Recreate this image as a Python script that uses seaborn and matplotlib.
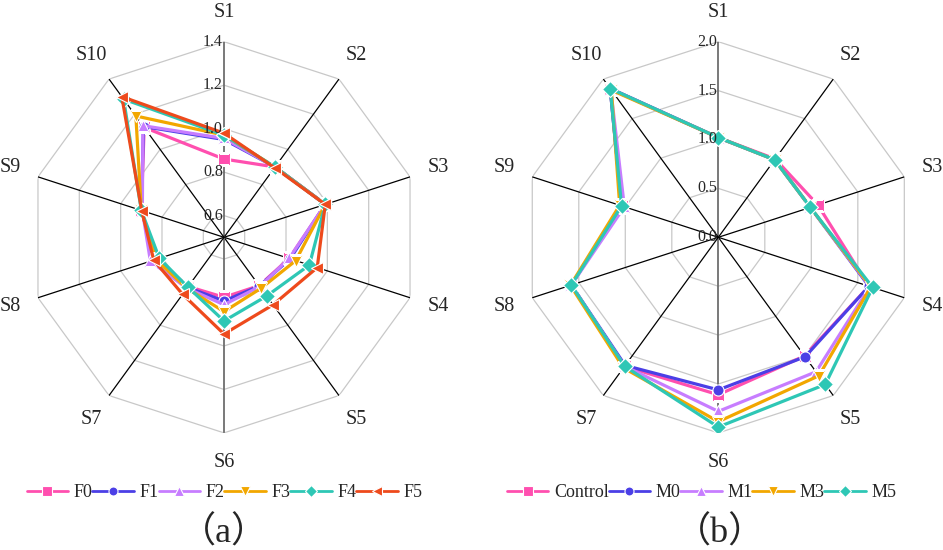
import numpy as np
import pandas as pd
import matplotlib
matplotlib.use("Agg")
import matplotlib.pyplot as plt
import matplotlib.transforms as mtransforms
import seaborn as sns

# ---------------- data ----------------
categories = ["S1", "S2", "S3", "S4", "S5", "S6", "S7", "S8", "S9", "S10"]

series_a = ["F0", "F1", "F2", "F3", "F4", "F5"]
F0 = [0.86, 0.90, 0.99, 0.815, 0.775, 0.776, 0.78, 0.83, 0.90, 1.125]
F1 = [0.95, 0.90, 0.99, 0.82, 0.777, 0.793, 0.785, 0.83, 0.90, 1.13]
F2 = [0.955, 0.90, 0.99, 0.815, 0.78, 0.81, 0.79, 0.856, 0.895, 1.135]
F3 = [0.97, 0.90, 0.99, 0.847, 0.79, 0.842, 0.79, 0.83, 0.90, 1.19]
F4 = [0.97, 0.90, 0.99, 0.913, 0.834, 0.885, 0.783, 0.813, 0.90, 1.286]
F5 = [0.979, 0.896, 0.99, 0.951, 0.884, 0.945, 0.824, 0.84, 0.898, 1.30]
values_a = [F0, F1, F2, F3, F4, F5]
ticks_a = [0.6, 0.8, 1.0, 1.2, 1.4]
tick_labels_a = ["0.6", "0.8", "1.0", "1.2", "1.4"]
rmin_a, rmax_a = 0.5, 1.4

series_b = ["Control", "M0", "M1", "M3", "M5"]
Control = [1.02, 0.99, 1.07, 1.62, 1.50, 1.61, 1.63, 1.58, 1.04, 1.88]
M0 = [1.02, 0.98, 0.99, 1.62, 1.51, 1.56, 1.62, 1.58, 1.04, 1.88]
M1 = [1.02, 0.98, 0.99, 1.63, 1.70, 1.78, 1.63, 1.58, 1.01, 1.87]
M3 = [1.02, 0.98, 0.99, 1.64, 1.75, 1.885, 1.65, 1.59, 1.06, 1.86]
M5 = [1.02, 0.98, 0.99, 1.66, 1.86, 1.94, 1.63, 1.58, 1.04, 1.88]
values_b = [Control, M0, M1, M3, M5]
ticks_b = [0.0, 0.5, 1.0, 1.5, 2.0]
tick_labels_b = ["0.0", "0.5", "1.0", "1.5", "2.0"]
rmin_b, rmax_b = 0.0, 2.0

colors_a = ["#FF4FAF", "#4B3FE6", "#C77DFF", "#F2A700", "#2EC7B5", "#EE4A1C"]
markers_a = ["s", "o", "^", "v", "D", "<"]
colors_b = colors_a[:5]
markers_b = markers_a[:5]

panel_titles = ["a", "b"]

# ---------------- style ----------------
sns.set_style("white")
plt.rcParams["font.family"] = ["Liberation Serif", "Noto Sans CJK SC", "DejaVu Sans"]

W, H = 943, 550
fig = plt.figure(figsize=(W / 100, H / 100), dpi=100)

R = 195.6  # px
def make_ax(cx, cy):
    return fig.add_axes([(cx - R) / W, (H - cy - R) / H, 2 * R / W, 2 * R / H],
                        projection="polar")

ax_a = make_ax(224.0, 237.3)
ax_b = make_ax(718.3, 237.3)

n = len(categories)
theta = np.arange(n) * 2 * np.pi / n
theta_closed = np.append(theta, 2 * np.pi)


def radar(ax, names, vals, colors, markers, rmin, rmax, ticks, tlabels):
    ax.set_theta_zero_location("N")
    ax.set_theta_direction(-1)
    ax.set_ylim(rmin, rmax)
    ax.grid(False)
    ax.set_xticks([])
    ax.set_yticks([])
    ax.spines["polar"].set_visible(False)
    ax.set_facecolor("none")

    # decagon rings
    for t in ticks:
        if t <= rmin:
            continue
        ax.plot(theta_closed, [t] * (n + 1), color="#c8c8c8", lw=0.9, zorder=1)
    # spokes
    for i, th in enumerate(theta):
        if i in (0, 5):
            ax.plot([th, th], [rmin, rmax], color="#6e6e6e", lw=1.3, zorder=1.5)
        else:
            ax.plot([th, th], [rmin, rmax], color="black", lw=0.9, zorder=1.5)

    # data
    rows = []
    for name, v in zip(names, vals):
        vv = list(v) + [v[0]]
        for th, val in zip(theta_closed, vv):
            rows.append({"theta": th, "value": val, "series": name})
    df = pd.DataFrame(rows)
    sns.lineplot(data=df, x="theta", y="value", hue="series", style="series",
                 hue_order=names, style_order=names,
                 palette=dict(zip(names, colors)),
                 markers=dict(zip(names, markers)), dashes=False, sort=False,
                 estimator=None, lw=2.3, markersize=8,
                 markeredgecolor="white", markeredgewidth=0.8, ax=ax, zorder=3)
    ax.set_xlabel("")
    ax.set_ylabel("")
    ax.set_ylim(rmin, rmax)
    handles, labels = ax.get_legend_handles_labels()
    if ax.get_legend() is not None:
        ax.get_legend().remove()

    # category labels
    rl = rmin + 1.15 * (rmax - rmin)
    for th, c in zip(theta, categories):
        ax.text(th, rl, c, ha="center", va="center", fontsize=14.5, clip_on=False)

    # radial tick labels
    off = mtransforms.offset_copy(ax.transData, fig=fig, x=-1, y=0, units="dots")
    for t, lab in zip(ticks, tlabels):
        ax.text(0, t, lab, ha="right", va="center", fontsize=11.5, transform=off,
                clip_on=False, zorder=4)
    return handles, labels


ha, la = radar(ax_a, series_a, values_a, colors_a, markers_a, rmin_a, rmax_a,
               ticks_a, tick_labels_a)
hb, lb = radar(ax_b, series_b, values_b, colors_b, markers_b, rmin_b, rmax_b,
               ticks_b, tick_labels_b)

for h in ha + hb:
    h.set_markersize(6.5)
    h.set_linewidth(2.0)

leg_kw = dict(loc="center", ncol=6, frameon=False, fontsize=13,
              handlelength=2.3, handletextpad=0.3, columnspacing=0.0,
              borderaxespad=0, borderpad=0)
fig.legend(ha, la, bbox_to_anchor=(224.5 / W, 1 - 492.7 / H), **leg_kw)
leg_kw["ncol"] = 5
fig.legend(hb, lb, bbox_to_anchor=(701.6 / W, 1 - 492.7 / H), **leg_kw)

for xc, t in zip([223.5, 720.0], panel_titles):
    fig.text(xc / W, 1 - 533 / H, "（" + t + "）", ha="center", va="center",
             fontsize=26)

fig.savefig("out.png", dpi=100, facecolor="white")
